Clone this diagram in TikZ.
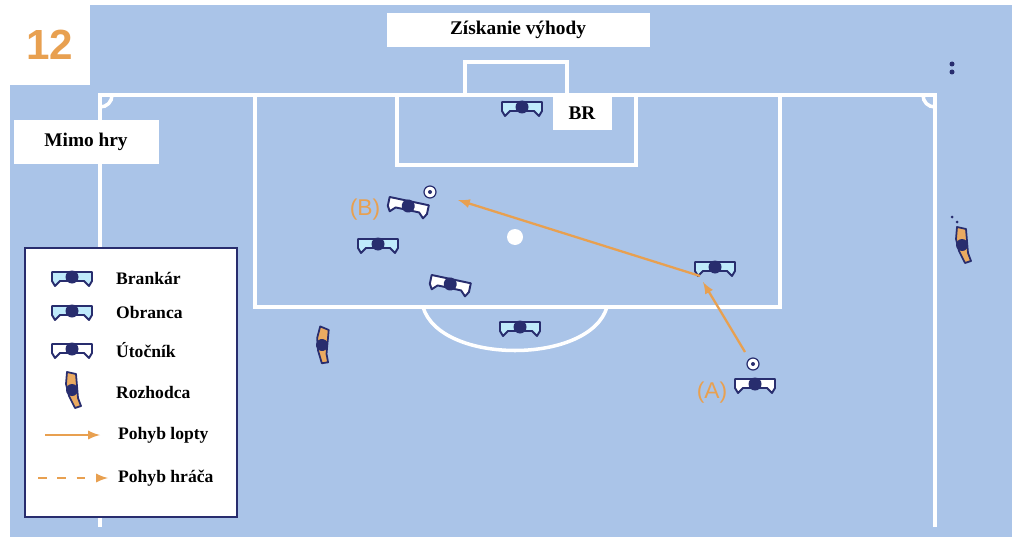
\documentclass[tikz,border=0pt]{standalone}
\usepackage{fontspec}
\setmainfont{Liberation Serif}
\newfontfamily\sansf{Liberation Sans}
\begin{document}
\begin{tikzpicture}[x=0.02cm,y=-0.02cm,
  field/.style={draw=white,line width=2pt},
  lab/.style={fill=white,font=\bfseries\fontsize{11}{12}\selectfont,inner sep=3pt},
  arr/.style={draw=orangec,line width=1.3pt,-latex},
  letter/.style={text=orangec,font=\sansf\fontsize{13}{14}\selectfont},
  player/.pic={
    \draw[navy,fill=#1,line width=1.1pt,line join=round] (-20,-6)--(20,-6)--(20,3)--(17,8)--(12,3)--(-12,3)--(-17,8)--(-20,3)--cycle;
    \fill[navy] (0,-1) circle (6.5);},
  ref/.pic={
    \draw[navy,fill=orangec!90,line width=1pt,line join=round] (-5,-18)--(4,-16)--(5,-4)--(6,8)--(9,16)--(3,18)--(-3,6)--(-6,-6)--cycle;
    \fill[navy] (0,0) circle (6);},
  ballp/.pic={\draw[navy,fill=white,line width=0.7pt] (0,0) circle (6); \fill[navy] (0,0) circle (2);}
]
\definecolor{navy}{RGB}{40,45,110}
\definecolor{fieldc}{RGB}{170,196,232}
\definecolor{orangec}{RGB}{232,160,80}
\useasboundingbox (0,0) rectangle (1024,537);
\fill[white] (0,0) rectangle (1024,537);
\fill[fieldc] (90,5) rectangle (1012,537);
\fill[fieldc] (10,85) rectangle (1012,537);
% field lines
\draw[field] (100,527)--(100,95)--(935,95)--(935,527);
\draw[field] (255,95)--(255,307)--(780,307)--(780,95);
\draw[field] (397,95)--(397,165)--(636,165)--(636,95);
\draw[field] (465,95)--(465,62)--(567,62)--(567,95);
\draw[field] (423,307) .. controls (440,365) and (590,365) .. (607,307);
\draw[field] (112,95) .. controls (112,102) and (107,107) .. (100,107);
\draw[field] (923,95) .. controls (923,102) and (928,107) .. (935,107);
\fill[white] (515,237) circle (8);
\fill[navy] (952,64) circle (2.5); \fill[navy] (952,72) circle (2.5);
\fill[navy] (952,217) circle (1.5); \fill[navy] (957,222) circle (1.5);
% labels
\node[text=orangec,font=\sansf\bfseries\fontsize{24}{24}\selectfont] (num) at (50,45) {12};
\node[lab,minimum width=263*0.02cm,minimum height=34*0.02cm] (title) at (518,30) {Získanie výhody};
\node[lab,minimum width=59*0.02cm,minimum height=34*0.02cm] (br) at (582,113) {BR};
\node[lab,minimum width=145*0.02cm,minimum height=44*0.02cm] (offs) at (86,142) {Mimo hry};
% players
\pic at (522,108) {player=cyan!25};
\pic at (378,245) {player=cyan!25};
\pic at (715,268) {player=cyan!25};
\pic at (520,328) {player=cyan!25};
\pic[rotate=-12] at (408,207) {player=white};
\pic[rotate=-12] at (450,285) {player=white};
\pic at (755,385) {player=white};
\pic[rotate=-10] at (322,345) {ref};
\pic at (962,245) {ref};
\pic at (430,192) {ballp};
\pic at (753,364) {ballp};
\coordinate (a1) at (745,352); \coordinate (a2) at (703,282);
\coordinate (b1) at (700,276); \coordinate (b2) at (458,200);
\draw[arr] (a1)--(a2);
\draw[arr] (b1)--(b2);
\node[letter] (la) at (712,393) {(A)};
\node[letter] (lb) at (365,210) {(B)};
% legend
\draw[navy,line width=1.2pt,fill=white] (25,248) rectangle (237,517);
\pic at (72,278) {player=cyan!25};
\pic at (72,312) {player=cyan!25};
\pic at (72,350) {player=white};
\pic at (72,390) {ref};
\coordinate (l1) at (45,435); \coordinate (l2) at (100,435);
\coordinate (m1) at (38,478); \coordinate (m2) at (108,478);
\draw[arr] (l1)--(l2);
\draw[arr,dash pattern=on 5pt off 6pt] (m1)--(m2);
\begin{scope}[every node/.style={anchor=west,font=\bfseries\fontsize{10}{12}\selectfont}]
\node (t1) at (110,278) {Brankár};
\node (t2) at (110,312) {Obranca};
\node (t3) at (110,350) {Útočník};
\node (t4) at (110,392) {Rozhodca};
\node (t5) at (112,435) {Pohyb lopty};
\node (t6) at (112,478) {Pohyb hráča};
\end{scope}
\end{tikzpicture}
\end{document}
